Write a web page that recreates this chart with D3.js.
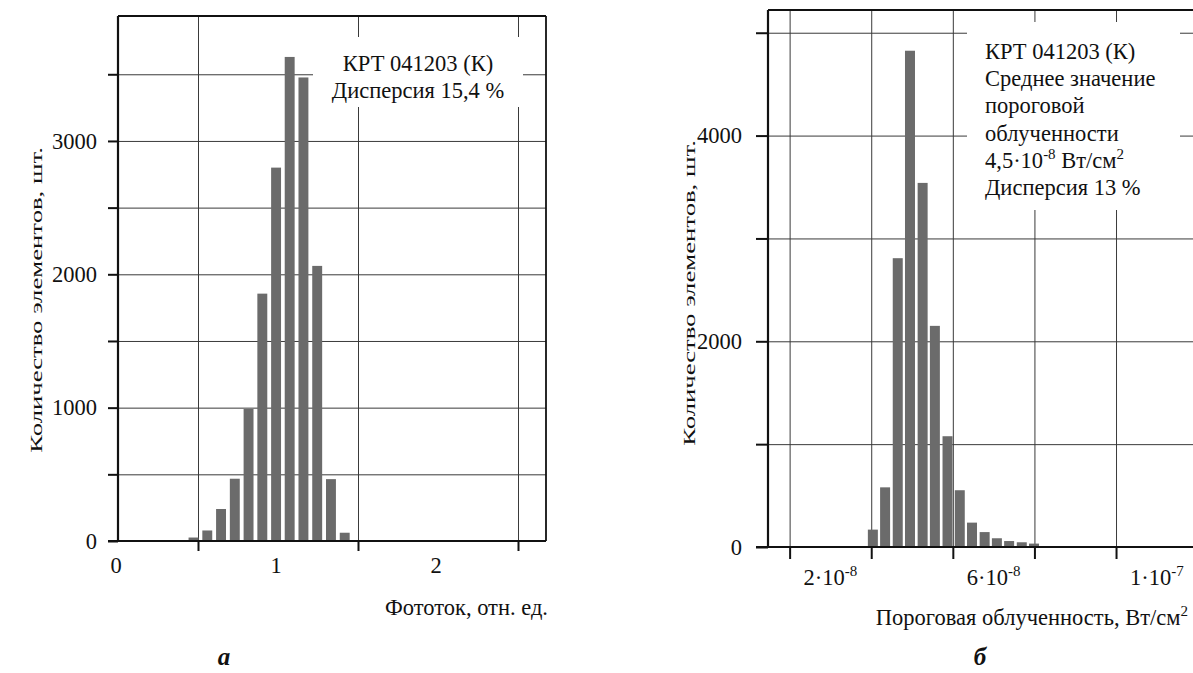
<!DOCTYPE html>
<html>
<head>
<meta charset="utf-8">
<script src="https://cdn.jsdelivr.net/npm/d3@7"></script>
<style>
  body { margin: 0; background: #fff; }
</style>
</head>
<body>
<svg id="chart" width="1193" height="673" font-family="Liberation Serif, DejaVu Serif, serif"></svg>
<script>
// --- panel a: photocurrent, rel. units ---
const photoBins   = [0.472, 0.558, 0.644, 0.730, 0.816, 0.902, 0.988, 1.073, 1.159, 1.245, 1.331, 1.417];
const photoCounts = [26, 79, 240, 467, 990, 1855, 2800, 3630, 3476, 2063, 464, 62];
const photoXLabels = [0, 1, 2];
const photoXGrid   = [0.5, 1.5, 2.5];
const photoYGrid   = [0, 500, 1000, 1500, 2000, 2500, 3000, 3500];
const photoYLabels = [0, 1000, 2000, 3000];

// --- panel b: threshold irradiance, units of 1e-8 W/cm2 ---
const nepBins   = [3.04, 3.34, 3.65, 3.95, 4.26, 4.56, 4.87, 5.17, 5.47, 5.78, 6.08, 6.38, 6.69, 6.99];
const nepCounts = [169, 580, 2808, 4825, 3540, 2150, 1077, 552, 237, 145, 85, 58, 46, 33];
const nepXLabels = [[2, "2·10", "-8"], [6, "6·10", "-8"], [10, "1·10", "-7"]];
const nepXGrid   = [1, 3, 5, 7, 9];
const nepYGrid   = [0, 1000, 2000, 3000, 4000, 5000];
const nepYLabels = [0, 2000, 4000];

const FONT = "Liberation Serif, DejaVu Serif, serif";
const FS = 22.5;
const svg = d3.select("#chart");
const yTitle = "Количество элементов, шт.";

function panel(p) {
  const g = svg.append("g");
  const x = d3.scaleLinear().domain(p.xDomain).range([p.left, p.right]);
  const y = d3.scaleLinear().domain(p.yDomain).range([p.bottom, p.top]);

  // grid
  g.append("g").attr("transform", `translate(0,${p.bottom})`)
    .call(d3.axisBottom(x).tickValues(p.xGrid).tickSize(-(p.bottom - p.top)).tickFormat(""))
    .call(a => a.select(".domain").remove())
    .selectAll("line").attr("stroke", "#3a3a3a").attr("stroke-width", 1);
  g.append("g").attr("transform", `translate(${p.left},0)`)
    .call(d3.axisLeft(y).tickValues(p.yGrid.slice(1)).tickSize(-(p.right - p.left)).tickFormat(""))
    .call(a => a.select(".domain").remove())
    .selectAll("line").attr("stroke", "#3a3a3a").attr("stroke-width", 1);

  // white box behind the note
  g.append("rect").attr("x", p.box[0]).attr("y", p.box[1])
    .attr("width", p.box[2] - p.box[0]).attr("height", p.box[3] - p.box[1]).attr("fill", "#fff");

  // bars
  const bw = x(p.barWidth) - x(0);
  g.selectAll("rect.bar").data(p.bins).join("rect").attr("class", "bar")
    .attr("x", d => x(d) - bw / 2).attr("width", bw)
    .attr("y", (d, i) => y(p.counts[i])).attr("height", (d, i) => y(0) - y(p.counts[i]))
    .attr("fill", "#6b6b6b");

  // y ticks + labels
  g.append("g").attr("transform", `translate(${p.left},0)`)
    .call(d3.axisLeft(y).tickValues(p.yGrid).tickSize(p.tick).tickPadding(p.yPad)
      .tickFormat(d => p.yLabels.includes(d) ? d : ""))
    .attr("font-family", FONT).attr("font-size", FS)
    .call(a => a.select(".domain").remove())
    .call(a => a.selectAll("line").attr("stroke", "#111").attr("stroke-width", 2))
    .call(a => a.selectAll("text").attr("fill", "#111"));

  // x ticks
  g.append("g").attr("transform", `translate(0,${p.bottom})`)
    .call(d3.axisBottom(x).tickValues(p.xGrid).tickSize(p.tick).tickFormat(""))
    .call(a => a.select(".domain").remove())
    .selectAll("line").attr("stroke", "#111").attr("stroke-width", 2);

  // frame
  g.append("line").attr("x1", p.left - p.tick).attr("x2", p.right).attr("y1", p.bottom).attr("y2", p.bottom)
    .attr("stroke", "#111").attr("stroke-width", 2.2);
  g.append("line").attr("x1", p.left).attr("x2", p.left).attr("y1", p.top).attr("y2", p.bottom)
    .attr("stroke", "#111").attr("stroke-width", 2.2);
  g.append("line").attr("x1", p.left).attr("x2", p.right).attr("y1", p.top).attr("y2", p.top)
    .attr("stroke", "#111").attr("stroke-width", 1.8);
  g.append("line").attr("x1", p.right).attr("x2", p.right).attr("y1", p.top).attr("y2", p.bottom)
    .attr("stroke", "#111").attr("stroke-width", 1.8);

  // vertical title, glyphs stretched along its length like the scan
  const t = g.append("text").attr("text-anchor", "middle").attr("font-size", 17).attr("fill", "#111")
    .text(yTitle);
  const sx = 306 / t.node().getComputedTextLength();
  t.attr("transform", `translate(${p.yTitleX},${p.yTitleY}) rotate(-90) scale(${sx},1)`);
  return { g, x, y };
}

function rich(sel, parts) {
  sel.attr("fill", "#111");
  parts.forEach(([t, sup], i) => {
    const prevSup = i > 0 && parts[i - 1][1];
    const ts = sel.append("tspan").text(t);
    if (sup) ts.attr("font-size", 15).attr("dy", -9);
    else if (prevSup) ts.attr("dy", 9);
  });
}

// panel a
const a = panel({
  xDomain: [0, 2.675], yDomain: [0, 3937],
  left: 118, right: 546, top: 16, bottom: 541,
  xGrid: photoXGrid, yGrid: photoYGrid, yLabels: photoYLabels,
  bins: photoBins, counts: photoCounts, barWidth: 0.062,
  tick: 10, yPad: 11, box: [313, 37, 523, 107],
  yTitleX: 42, yTitleY: 300
});
a.g.selectAll("text.xl").data(photoXLabels).join("text").attr("class", "xl")
  .attr("x", d => a.x(d) - 2).attr("y", 573).attr("text-anchor", "middle").attr("font-size", FS)
  .attr("fill", "#111").text(d => d);
a.g.append("text").attr("x", 548).attr("y", 615).attr("text-anchor", "end").attr("font-size", FS)
  .attr("fill", "#111").text("Фототок, отн. ед.");
a.g.selectAll("text.note").data(["КРТ 041203 (К)", "Дисперсия 15,4 %"]).join("text").attr("class", "note")
  .attr("x", 418).attr("y", (d, i) => 71 + i * 27).attr("text-anchor", "middle").attr("font-size", FS)
  .attr("fill", "#111").text(d => d);
svg.append("text").attr("x", 224).attr("y", 665).attr("text-anchor", "middle").attr("fill", "#111")
  .attr("font-size", 25).attr("font-weight", "bold").attr("font-style", "italic").text("а");

// panel b
const b = panel({
  xDomain: [0.47, 10.96], yDomain: [0, 5221],
  left: 768, right: 1196, top: 10, bottom: 547,
  xGrid: nepXGrid, yGrid: nepYGrid, yLabels: nepYLabels,
  bins: nepBins, counts: nepCounts, barWidth: 0.245,
  tick: 12, yPad: 14, box: [967, 22, 1180, 210],
  yTitleX: 695, yTitleY: 293
});
nepXLabels.forEach(([v, base, exp]) => {
  const t = b.g.append("text").attr("x", b.x(v)).attr("y", 585).attr("text-anchor", "middle").attr("font-size", FS);
  rich(t, [[base, false], [exp, true]]);
});
rich(b.g.append("text").attr("x", 1188).attr("y", 625).attr("text-anchor", "end").attr("font-size", FS),
  [["Пороговая облученность, Вт/см", false], ["2", true]]);
const nepNote = [
  [["КРТ 041203 (К)", false]],
  [["Среднее значение", false]],
  [["пороговой", false]],
  [["облученности", false]],
  [["4,5·10", false], ["-8", true], [" Вт/см", false], ["2", true]],
  [["Дисперсия 13 %", false]]
];
nepNote.forEach((parts, i) => {
  rich(b.g.append("text").attr("x", 985).attr("y", 59 + i * 27.2).attr("font-size", FS), parts);
});
svg.append("text").attr("x", 980).attr("y", 665).attr("text-anchor", "middle").attr("fill", "#111")
  .attr("font-size", 25).attr("font-weight", "bold").attr("font-style", "italic").text("б");
</script>
</body>
</html>
